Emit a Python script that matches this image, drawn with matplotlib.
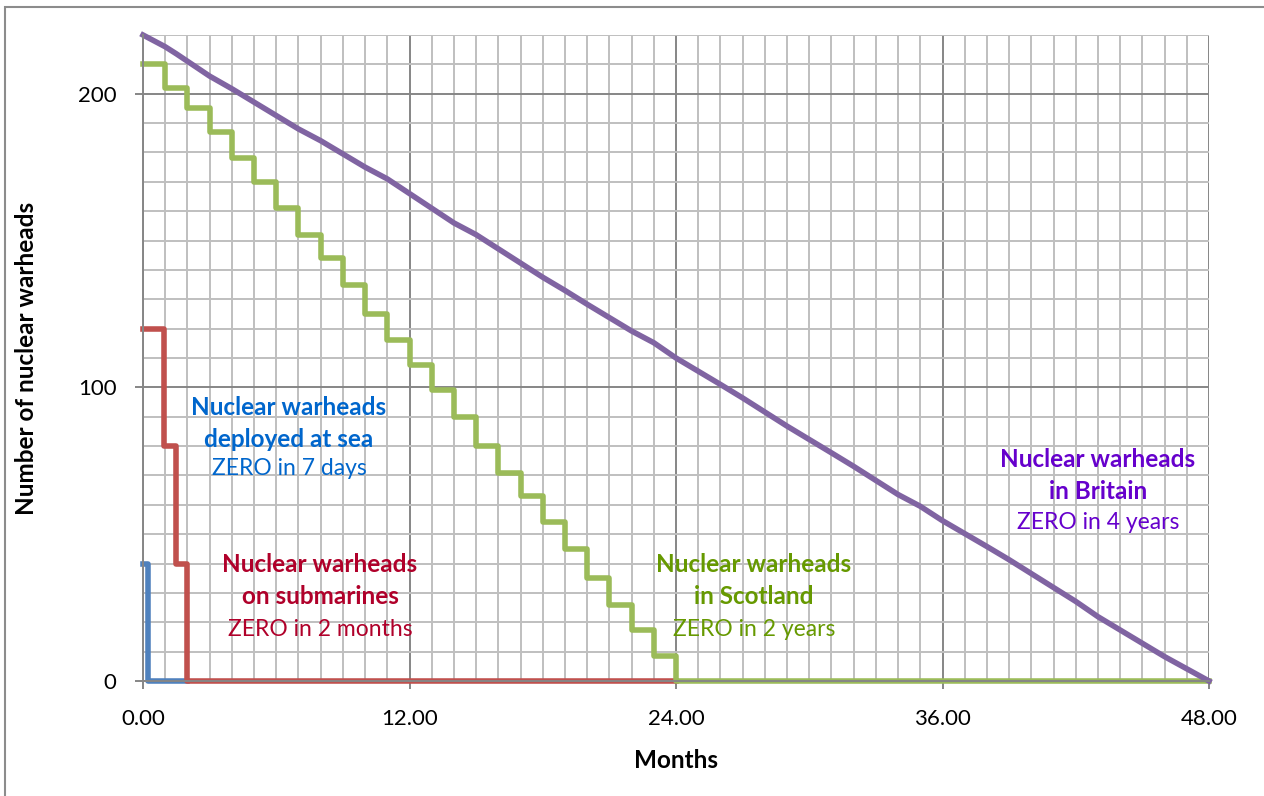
import matplotlib
matplotlib.use("Agg")
import matplotlib.pyplot as plt
from matplotlib.patches import Rectangle
from matplotlib.ticker import MultipleLocator, FuncFormatter

plt.rcParams['font.family'] = ['Lato', 'DejaVu Sans']

# warheads deployed at sea (months, count)
sea_x = [0, 0.23, 1.97]
sea_y = [40, 0, 0]

# warheads on submarines
sub_x = [0, 0.93, 1.5, 1.97, 24]
sub_y = [120, 80, 40, 0, 0]

# warheads in Scotland, monthly steps
scot_x = [0, 1, 2, 3, 4, 5, 6, 7, 8, 9, 10, 11, 12, 13, 14, 15, 16, 17, 18,
          19, 20, 21, 22, 23, 24, 48]
scot_y = [210, 202, 195, 187, 178, 170, 161, 152, 144, 135, 125, 116, 107.5,
          99, 90, 80, 71, 63, 54, 45, 35, 26, 17.5, 8.5, 0, 0]

# warheads in Britain
brit_x = [0, 1, 1.5, 3, 4, 7, 8, 10, 11, 12, 14, 15, 18, 19, 20, 22, 23, 24,
          26, 27, 29, 31, 32, 34, 35, 36, 38, 39, 42, 43, 46, 48]
brit_y = [220, 216, 213.6, 206, 201.7, 188, 184, 175, 171, 166, 156, 152,
          137.5, 133, 128.3, 119.2, 115.2, 110, 101, 96.4, 86.8, 77.7, 73.1,
          63.5, 59.5, 54.6, 45.8, 41.3, 27.1, 21.9, 8.3, 0]

fig = plt.figure(figsize=(12.64, 7.96), dpi=100)
ax = fig.add_axes([143 / 1264, 115 / 796, 1066 / 1264, 646 / 796])

# chart area border (cut off at right and bottom like the original)
fig.patches.append(Rectangle((5 / 1264, -0.05), 1.2, 1.05 - 7 / 796,
                             transform=fig.transFigure, fill=False,
                             edgecolor='#8c8c8c', linewidth=1.5))

ax.set_xlim(0, 48)
ax.set_ylim(0, 220)
ax.xaxis.set_major_locator(MultipleLocator(12))
ax.xaxis.set_minor_locator(MultipleLocator(1))
ax.yaxis.set_major_locator(MultipleLocator(100))
ax.yaxis.set_minor_locator(MultipleLocator(10))
ax.xaxis.set_major_formatter(FuncFormatter(lambda v, p: '%.2f' % v))

ax.grid(which='minor', color='#bfbfbf', linewidth=1.4)
ax.grid(which='major', color='#868686', linewidth=1.4)
ax.set_axisbelow(True)
for s in ['top', 'right']:
    ax.spines[s].set_visible(False)
for s in ['left', 'bottom']:
    ax.spines[s].set_color('#868686')
    ax.spines[s].set_linewidth(1.4)
ax.tick_params(which='major', direction='out', length=6, width=1.4,
               color='#868686', labelsize=16)
ax.tick_params(which='minor', length=0)
ax.tick_params(axis='y', pad=13)
ax.tick_params(axis='x', pad=14)

lw = 4
ax.step(sea_x, sea_y, where='post', color='#4f81bd', linewidth=lw, clip_on=False)
ax.step(sub_x, sub_y, where='post', color='#c0504d', linewidth=lw, clip_on=False)
ax.step(scot_x, scot_y, where='post', color='#9bbb59', linewidth=lw, clip_on=False)
ax.plot(brit_x, brit_y, color='#8064a2', linewidth=lw, clip_on=False)

ax.set_xlabel('Months', fontsize=17.5, fontweight='bold')
ax.set_ylabel('Number of nuclear warheads', fontsize=17.5, fontweight='bold')
ax.xaxis.set_label_coords(0.5, -0.105)
ax.yaxis.set_label_coords(-0.0985, 0.5)


def label(x, ys, lines, color):
    for y, (txt, w) in zip(ys, lines):
        ax.text(x, y, txt, color=color, fontweight=w,
                fontsize=17.5 if w == 'bold' else 16.5,
                ha='center', va='center')


label(6.57, [93.2, 82.3, 72.4],
      [('Nuclear warheads', 'bold'), ('deployed at sea', 'bold'),
       ('ZERO in 7 days', 'normal')], '#0066cc')
label(7.97, [39.6, 28.7, 17.4],
      [('Nuclear warheads', 'bold'), ('on submarines', 'bold'),
       ('ZERO in 2 months', 'normal')], '#b0002a')
label(27.5, [39.6, 28.7, 17.4],
      [('Nuclear warheads', 'bold'), ('in Scotland', 'bold'),
       ('ZERO in 2 years', 'normal')], '#669900')
label(43.0, [75.4, 64.5, 53.9],
      [('Nuclear warheads', 'bold'), ('in Britain', 'bold'),
       ('ZERO in 4 years', 'normal')], '#6600cc')

fig.savefig('out.png', dpi=100)
